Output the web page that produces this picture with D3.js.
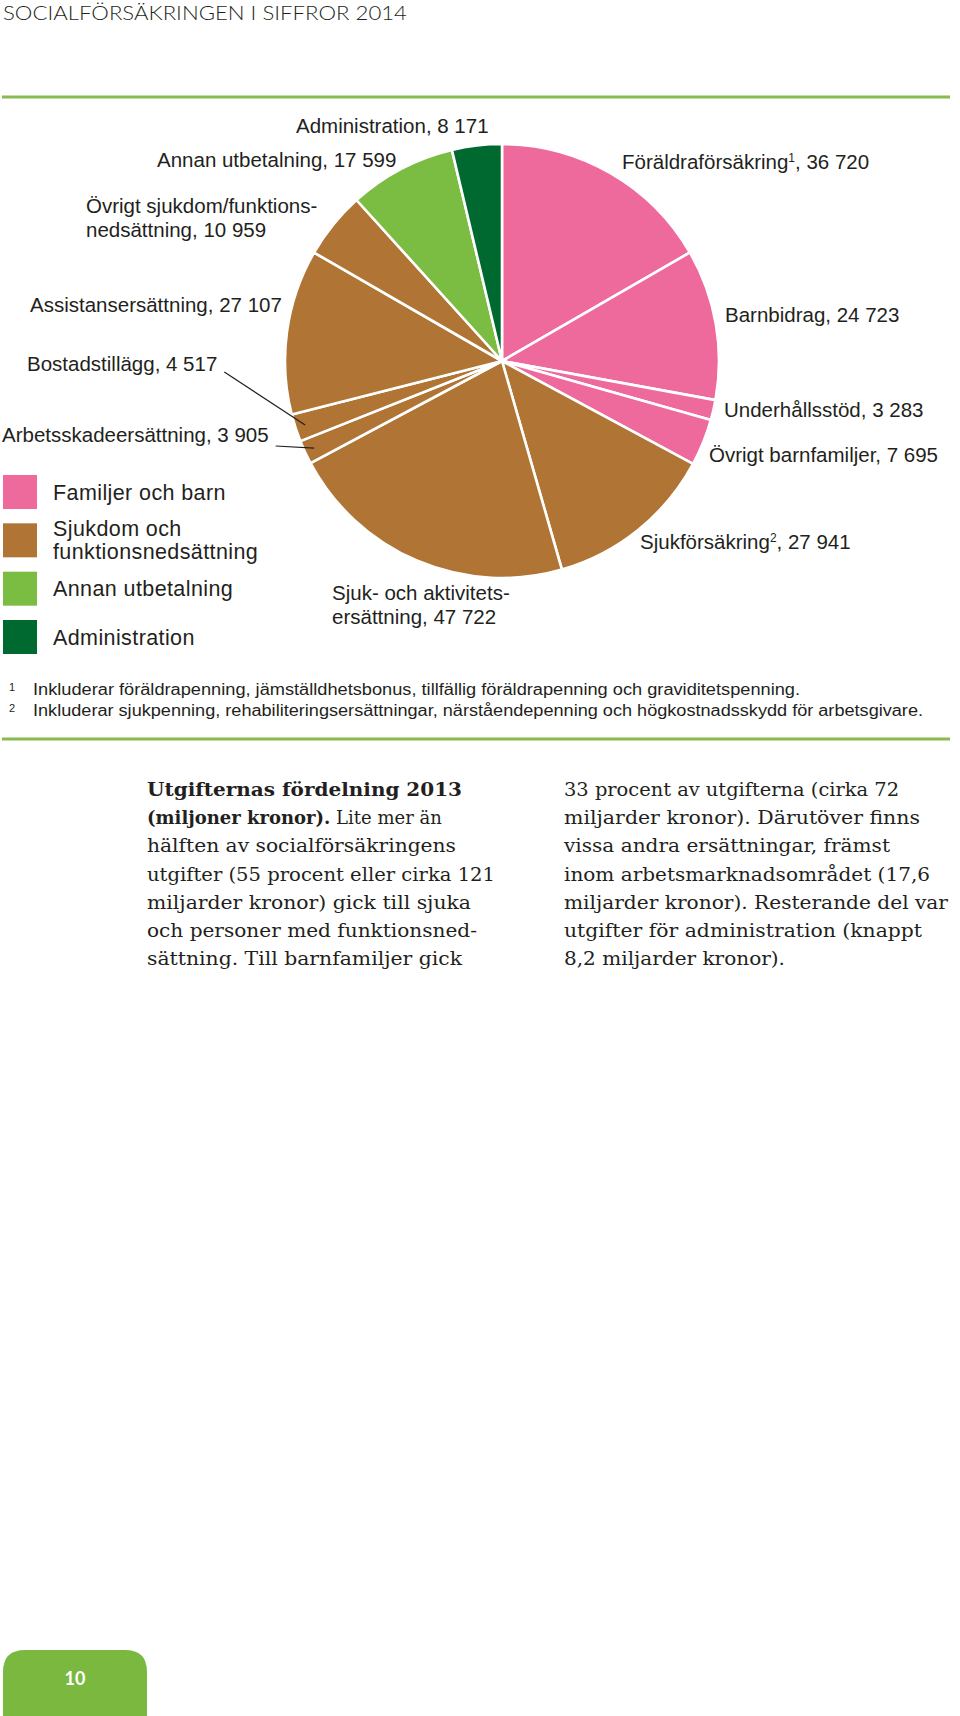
<!DOCTYPE html>
<html lang="sv">
<head>
  <meta charset="UTF-8">
  <title>Utgifternas fördelning 2013</title>
  <style>
    html, body {
      margin: 0;
      background: #fff;
    }
    svg {
      display: block;
    }
  </style>
</head>
<body>
  <script src="https://d3js.org/d3.v7.min.js"></script>
  <script>
    // data (miljoner kronor)
    const categories = [
      "Föräldraförsäkring", "Barnbidrag", "Underhållsstöd", "Övrigt barnfamiljer",
      "Sjukförsäkring", "Sjuk- och aktivitetsersättning", "Arbetsskadeersättning",
      "Bostadstillägg", "Assistansersättning", "Övrigt sjukdom/funktionsnedsättning",
      "Annan utbetalning", "Administration"
    ];
    const values = [36720, 24723, 3283, 7695, 27941, 47722, 3905, 4517, 27107, 10959, 17599, 8171];
    const groupOf = [0, 0, 0, 0, 1, 1, 1, 1, 1, 1, 2, 3];
    const groupNames = [["Familjer och barn"], ["Sjukdom och", "funktionsnedsättning"], ["Annan utbetalning"], ["Administration"]];
    // label text lines, {v} = value, ^n = superscript
    const labelLines = [
      ["Föräldraförsäkring^1, {v}"],
      ["Barnbidrag, {v}"],
      ["Underhållsstöd, {v}"],
      ["Övrigt barnfamiljer, {v}"],
      ["Sjukförsäkring^2, {v}"],
      ["Sjuk- och aktivitets-", "ersättning, {v}"],
      ["Arbetsskadeersättning, {v}"],
      ["Bostadstillägg, {v}"],
      ["Assistansersättning, {v}"],
      ["Övrigt sjukdom/funktions-", "nedsättning, {v}"],
      ["Annan utbetalning, {v}"],
      ["Administration, {v}"]
    ];
    const leaderFor = ["Arbetsskadeersättning", "Bostadstillägg"];
    const footnotes = [
      "Inkluderar föräldrapenning, jämställdhetsbonus, tillfällig föräldrapenning och graviditetspenning.",
      "Inkluderar sjukpenning, rehabiliteringsersättningar, närståendepenning och högkostnadsskydd för arbetsgivare."
    ];
    const leftColumn = [
      [["Utgifternas fördelning 2013", true]],
      [["(miljoner kronor).", true], [" Lite mer än", false]],
      [["hälften av socialförsäkringens", false]],
      [["utgifter (55 procent eller cirka 121", false]],
      [["miljarder kronor) gick till sjuka", false]],
      [["och personer med funktionsned-", false]],
      [["sättning. Till barnfamiljer gick", false]]
    ];
    const rightColumn = [
      "33 procent av utgifterna (cirka 72",
      "miljarder kronor). Därutöver finns",
      "vissa andra ersättningar, främst",
      "inom arbetsmarknadsområdet (17,6",
      "miljarder kronor). Resterande del var",
      "utgifter för administration (knappt",
      "8,2 miljarder kronor)."
    ];

    // layout
    const W = 960, H = 1716;
    const cx = 502, cy = 361, R = 217;
    const colors = ["#ee6a9c", "#b07434", "#7bbc42", "#00692f"];
    const ink = "#231f20";
    const sans = "'Liberation Sans', Arial, Helvetica, sans-serif";
    const serif = "'DejaVu Serif', serif";
    const labelPos = [
      [622, 169], [725, 322], [724, 417], [709, 462], [640, 549], [332, 600],
      [2, 442], [27, 371], [30, 312], [86, 213], [157, 167], [296, 133]
    ];
    const leftWidths = [315, null, 309, 348, 324, 330, 315];
    const rightWidths = [335, 356, 326, 366, 384, 358, 221];

    const fmt = d3.formatLocale({ decimal: ",", thousands: "\u00a0", grouping: [3], currency: ["", ""] }).format(",d");

    const svg = d3.select("body").append("svg")
      .attr("width", W)
      .attr("height", H);

    // header
    svg.append("text")
      .attr("x", 3)
      .attr("y", 20)
      .attr("font-family", "Lato, 'Open Sans', sans-serif")
      .attr("font-weight", 300)
      .attr("font-size", 20)
      .attr("textLength", 404)
      .attr("lengthAdjust", "spacingAndGlyphs")
      .attr("fill", ink)
      .text("SOCIALFÖRSÄKRINGEN I SIFFROR 2014");

    svg.selectAll("line.rule")
      .data([97, 739])
      .join("line")
      .attr("class", "rule")
      .attr("x1", 2)
      .attr("x2", 950)
      .attr("y1", d => d)
      .attr("y2", d => d)
      .attr("stroke", "#86bc4f")
      .attr("stroke-width", 3);

    // pie
    const data = categories.map((name, i) => ({ name, value: values[i], group: groupOf[i], i }));
    const pie = d3.pie().sort(null).value(d => d.value);
    const arcs = pie(data);
    const arc = d3.arc().innerRadius(0).outerRadius(R);
    const leaderArc = d3.arc().innerRadius(R - 10).outerRadius(R - 10);

    const g = svg.append("g").attr("transform", `translate(${cx},${cy})`);
    g.selectAll("path")
      .data(arcs)
      .join("path")
      .attr("d", arc)
      .attr("fill", d => colors[d.data.group])
      .attr("stroke", "#fff")
      .attr("stroke-width", 2.6)
      .attr("stroke-linejoin", "round");

    // labels
    const labels = svg.append("g")
      .attr("font-family", sans)
      .attr("font-size", 20.5)
      .attr("fill", ink);

    function addRich(textSel, str) {
      str.split(/(\^\d)/).forEach(part => {
        if (!part) return;
        if (part[0] === "^") {
          textSel.append("tspan")
            .attr("font-size", 12)
            .attr("baseline-shift", 7)
            .text(part.slice(1));
        } else {
          textSel.append("tspan").text(part);
        }
      });
    }

    arcs.forEach((a, i) => {
      const [x, y] = labelPos[i];
      const lines = labelLines[i];
      let lastText;
      lines.forEach((ln, k) => {
        const t = labels.append("text")
          .attr("x", x)
          .attr("y", y + k * 24);
        addRich(t, ln.replace("{v}", fmt(a.data.value)));
        lastText = t;
      });
      if (leaderFor.includes(a.data.name)) {
        const end = leaderArc.centroid(a);
        const tx = x + lastText.node().getComputedTextLength() + 7;
        svg.append("line")
          .attr("x1", tx)
          .attr("y1", y + (a.data.name === "Bostadstillägg" ? 1 : 4))
          .attr("x2", cx + end[0])
          .attr("y2", cy + end[1])
          .attr("stroke", ink)
          .attr("stroke-width", 1.2);
      }
    });

    // legend
    const legend = svg.append("g")
      .attr("font-family", sans)
      .attr("font-size", 21.5)
      .attr("letter-spacing", 0.4)
      .attr("fill", ink);
    const ly = d3.scaleLinear().domain([0, 3]).range([475, 620]);
    groupNames.forEach((lines, i) => {
      const top = ly(i);
      legend.append("rect")
        .attr("x", 3)
        .attr("y", top)
        .attr("width", 34)
        .attr("height", 34)
        .attr("fill", colors[i]);
      const mid = top + 17;
      const base = lines.length === 1 ? mid + 7.5 : mid - 4;
      lines.forEach((ln, k) => {
        legend.append("text")
          .attr("x", 53)
          .attr("y", base + k * 23)
          .text(ln);
      });
    });

    // footnotes
    const notes = svg.append("g")
      .attr("font-family", sans)
      .attr("fill", ink);
    const noteWidths = [767, 890];
    footnotes.forEach((txt, i) => {
      const y = 695 + i * 21;
      notes.append("text")
        .attr("x", 9)
        .attr("y", y - 4)
        .attr("font-size", 11)
        .text(i + 1);
      notes.append("text")
        .attr("x", 33)
        .attr("y", y)
        .attr("font-size", 16)
        .attr("textLength", noteWidths[i])
        .attr("lengthAdjust", "spacingAndGlyphs")
        .text(txt);
    });

    // body text
    const body = svg.append("g")
      .attr("font-family", serif)
      .attr("font-size", 18)
      .attr("fill", ink);
    leftColumn.forEach((parts, i) => {
      const t = body.append("text")
        .attr("x", 147)
        .attr("y", 796 + i * 28.2);
      if (leftWidths[i]) {
        t.attr("textLength", leftWidths[i]).attr("lengthAdjust", "spacingAndGlyphs");
      }
      parts.forEach(([s, bold]) => {
        t.append("tspan")
          .attr("font-weight", bold ? 700 : 400)
          .text(s);
      });
    });
    rightColumn.forEach((s, i) => {
      body.append("text")
        .attr("x", 564)
        .attr("y", 796 + i * 28.2)
        .attr("textLength", rightWidths[i])
        .attr("lengthAdjust", "spacingAndGlyphs")
        .text(s);
    });

    // page number tab
    const bx = 3, bw = 144, by = 1650, rr = 22;
    svg.append("path")
      .attr("d", `M${bx},${H} V${by + rr} Q${bx},${by} ${bx + rr},${by} H${bx + bw - rr} Q${bx + bw},${by} ${bx + bw},${by + rr} V${H} Z`)
      .attr("fill", "#7ab840");
    svg.append("text")
      .attr("x", bx + bw / 2)
      .attr("y", 1685)
      .attr("text-anchor", "middle")
      .attr("font-family", "Lato, 'Open Sans', sans-serif")
      .attr("font-weight", 700)
      .attr("font-size", 18)
      .attr("fill", "#fff")
      .text("10");
  </script>
</body>
</html>
